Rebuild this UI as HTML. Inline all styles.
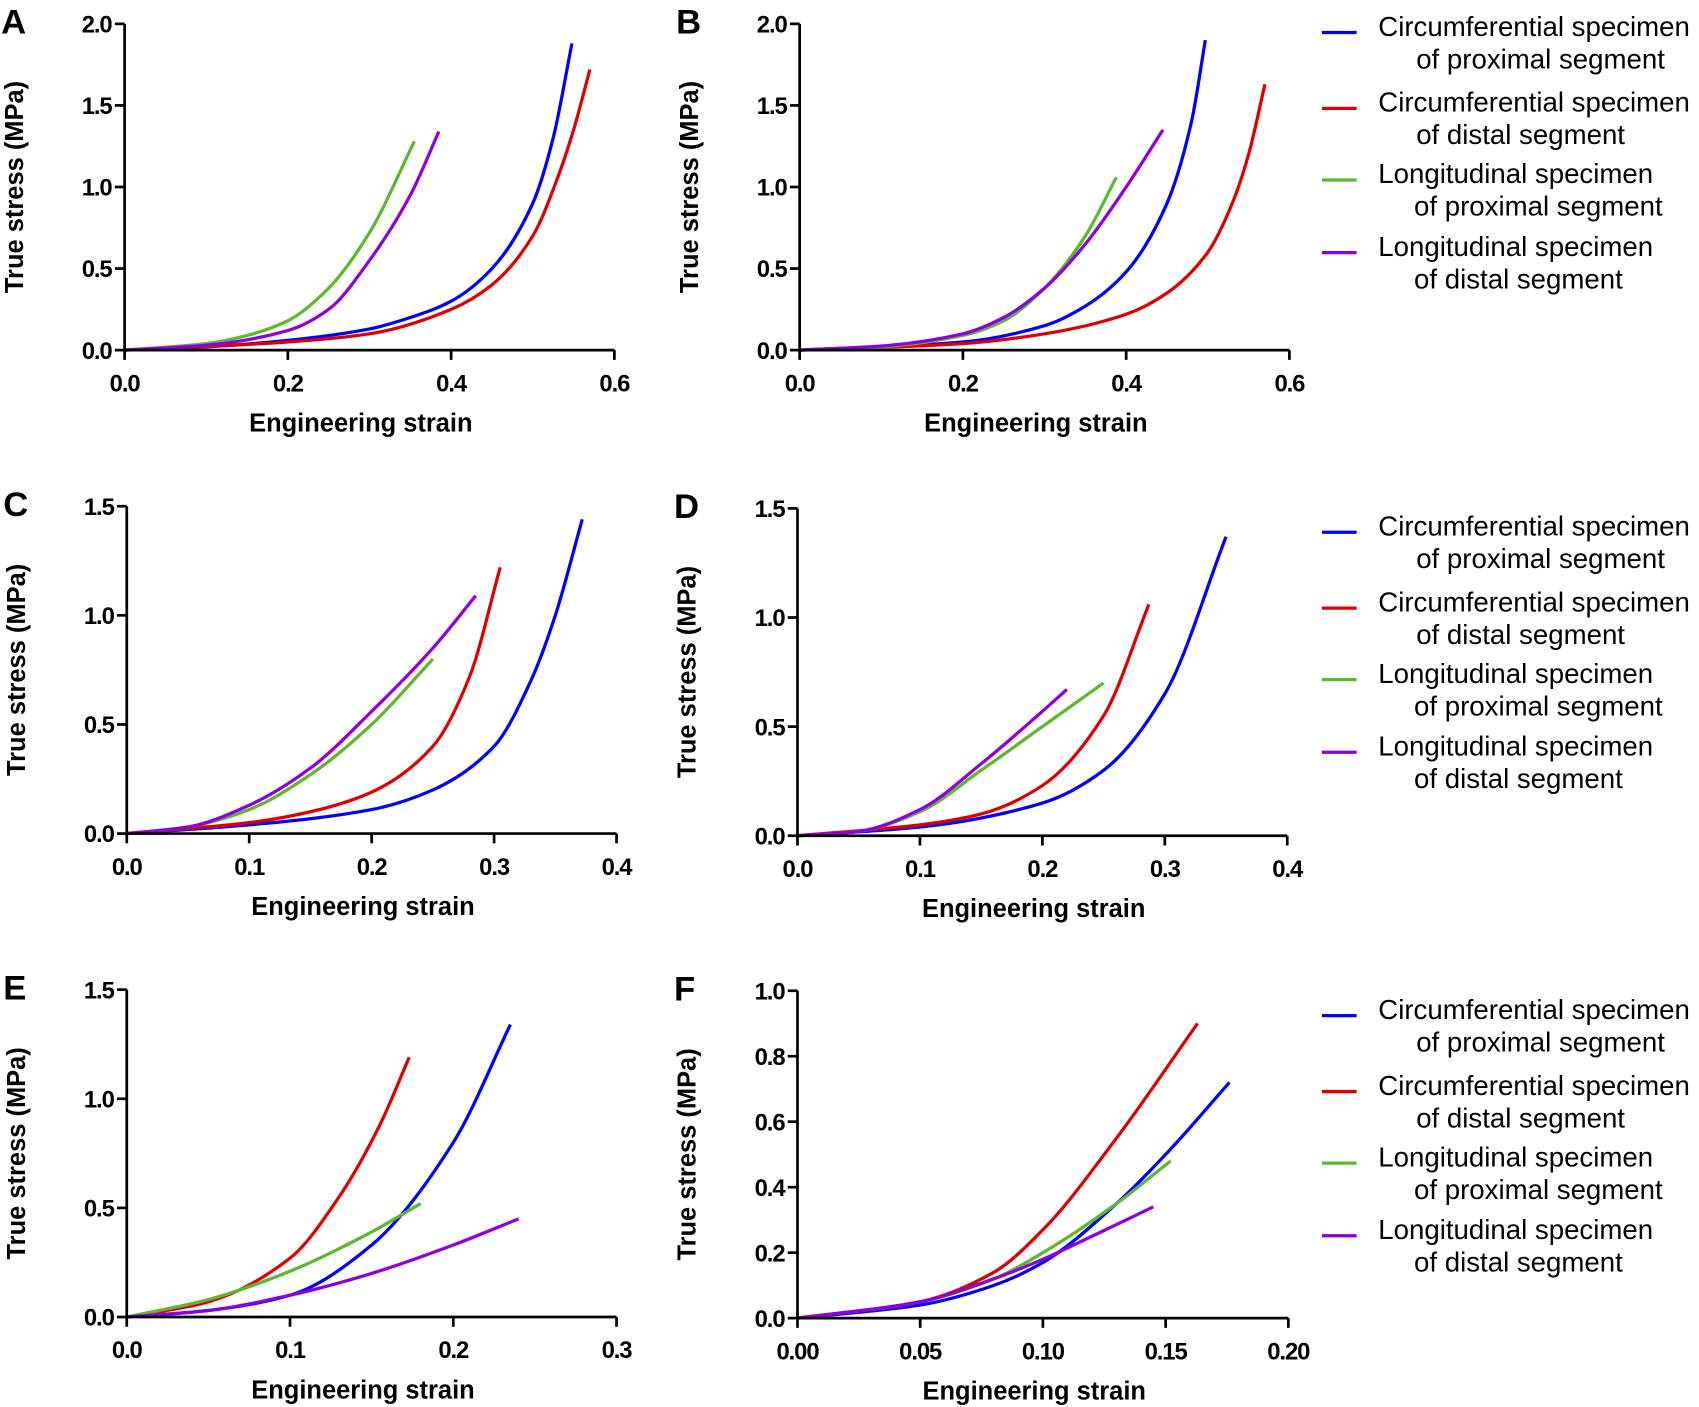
<!DOCTYPE html>
<html><head><meta charset="utf-8"><style>
html,body{margin:0;padding:0;background:#fff}
svg{display:block}
.tick{font-family:"Liberation Sans",sans-serif;font-weight:bold;font-size:22px;letter-spacing:-1px;fill:#000}
.title{font-family:"Liberation Sans",sans-serif;font-weight:bold;font-size:23.5px;fill:#000}
.letter{font-family:"Liberation Sans",sans-serif;font-weight:bold;font-size:32px;fill:#000}
.leg{font-family:"Liberation Sans",sans-serif;font-size:25.5px;fill:#000}
</style></head><body>
<svg id="fig" width="1699" height="1407" viewBox="0 0 1568 1298" preserveAspectRatio="none" xmlns="http://www.w3.org/2000/svg"></svg>
<script>
// Series data per panel: [strain, stress] pairs
const seriesNames = ["Circumferential specimen of proximal segment","Circumferential specimen of distal segment","Longitudinal specimen of proximal segment","Longitudinal specimen of distal segment"];
const seriesColors = ["#0000ff","#e00000","#5cb82e","#8f00e0"];
const aBlue=[[0,0],[0.1,0.02],[0.2,0.06],[0.3,0.13],[0.35,0.2],[0.4,0.3],[0.45,0.5],[0.5,0.9],[0.525,1.3],[0.548,1.88]];
const aRed=[[0,0],[0.2,0.05],[0.3,0.1],[0.4,0.25],[0.45,0.4],[0.5,0.7],[0.53,1.05],[0.55,1.35],[0.57,1.72]];
const aGreen=[[0,0],[0.1,0.04],[0.15,0.09],[0.2,0.18],[0.25,0.38],[0.3,0.72],[0.355,1.28]];
const aPurple=[[0,0],[0.1,0.03],[0.2,0.12],[0.25,0.25],[0.3,0.55],[0.35,0.95],[0.385,1.34]];
const bBlue=[[0,0],[0.2,0.05],[0.3,0.15],[0.35,0.27],[0.4,0.48],[0.45,0.9],[0.48,1.4],[0.497,1.9]];
const bRed=[[0,0],[0.2,0.04],[0.3,0.1],[0.4,0.22],[0.45,0.35],[0.5,0.6],[0.53,0.9],[0.55,1.2],[0.57,1.63]];
const bGreen=[[0,0],[0.1,0.02],[0.2,0.09],[0.25,0.18],[0.3,0.38],[0.35,0.7],[0.388,1.06]];
const bPurple=[[0,0],[0.1,0.025],[0.2,0.1],[0.25,0.2],[0.3,0.38],[0.35,0.65],[0.4,1.0],[0.445,1.35]];
const cBlue=[[0,0],[0.1,0.04],[0.2,0.11],[0.25,0.2],[0.3,0.4],[0.33,0.7],[0.35,1.0],[0.372,1.44]];
const cRed=[[0,0],[0.1,0.05],[0.15,0.1],[0.2,0.19],[0.25,0.4],[0.28,0.72],[0.305,1.22]];
const cGreen=[[0,0],[0.05,0.03],[0.1,0.11],[0.15,0.27],[0.2,0.5],[0.25,0.8]];
const cPurple=[[0,0],[0.05,0.03],[0.1,0.13],[0.15,0.3],[0.2,0.56],[0.25,0.85],[0.285,1.09]];
const dBlue=[[0,0],[0.1,0.04],[0.2,0.15],[0.25,0.3],[0.3,0.65],[0.35,1.37]];
const dRed=[[0,0],[0.1,0.05],[0.15,0.1],[0.2,0.23],[0.25,0.55],[0.287,1.06]];
const dGreen=[[0,0],[0.05,0.02],[0.1,0.11],[0.15,0.3],[0.2,0.5],[0.25,0.7]];
const dPurple=[[0,0],[0.05,0.02],[0.1,0.12],[0.15,0.33],[0.2,0.57],[0.22,0.67]];
const eBlue=[[0,0],[0.05,0.03],[0.1,0.1],[0.15,0.33],[0.2,0.8],[0.235,1.34]];
const eRed=[[0,0],[0.05,0.07],[0.1,0.27],[0.13,0.55],[0.155,0.88],[0.173,1.19]];
const eGreen=[[0,0],[0.05,0.08],[0.1,0.21],[0.15,0.39],[0.18,0.52]];
const ePurple=[[0,0],[0.05,0.03],[0.1,0.1],[0.15,0.2],[0.2,0.33],[0.24,0.45]];
const fBlue=[[0,0],[0.05,0.04],[0.08,0.1],[0.1,0.17],[0.13,0.35],[0.15,0.5],[0.176,0.72]];
const fRed=[[0,0],[0.05,0.05],[0.08,0.14],[0.1,0.27],[0.13,0.55],[0.163,0.9]];
const fGreen=[[0,0],[0.05,0.05],[0.08,0.12],[0.1,0.2],[0.13,0.35],[0.152,0.48]];
const fPurple=[[0,0],[0.05,0.05],[0.08,0.12],[0.1,0.18],[0.12,0.25],[0.145,0.34]];
const xTicksA=["0.0","0.2","0.4","0.6"];
const yTicksA=["0.0","0.5","1.0","1.5","2.0"];
const xTicksC=["0.0","0.1","0.2","0.3","0.4"];
const yTicksC=["0.0","0.5","1.0","1.5"];
const xTicksE=["0.0","0.1","0.2","0.3"];
const xTicksF=["0.00","0.05","0.10","0.15","0.20"];
const yTicksF=["0.0","0.2","0.4","0.6","0.8","1.0"];

const NS="http://www.w3.org/2000/svg";
const svg=document.getElementById('fig');
function mk(tag,attrs,parent){const e=document.createElementNS(NS,tag);for(const k in attrs)e.setAttribute(k,attrs[k]);(parent||svg).appendChild(e);return e;}

const panels=[
 {id:"a",L:"A",x0:115,x1:567,y0:323,y1:22,xt:xTicksA,yt:yTicksA,s:[aBlue,aRed,aGreen,aPurple]},
 {id:"b",L:"B",x0:738,x1:1190,y0:323,y1:22,xt:xTicksA,yt:yTicksA,s:[bBlue,bRed,bGreen,bPurple]},
 {id:"c",L:"C",x0:117,x1:569,y0:769,y1:467,xt:xTicksC,yt:yTicksC,s:[cBlue,cRed,cGreen,cPurple]},
 {id:"d",L:"D",x0:736,x1:1188,y0:771,y1:469,xt:xTicksC,yt:yTicksC,s:[dBlue,dRed,dGreen,dPurple]},
 {id:"e",L:"E",x0:117,x1:569,y0:1215,y1:913,xt:xTicksE,yt:yTicksC,s:[eBlue,eRed,eGreen,ePurple]},
 {id:"f",L:"F",x0:736,x1:1189,y0:1216,y1:914,xt:xTicksF,yt:yTicksF,s:[fBlue,fRed,fGreen,fPurple]}
];

// monotone cubic (Fritsch-Carlson) path in pixel space
function smooth(pts){
  const n=pts.length, dx=[], m=[], t=[];
  for(let i=0;i<n-1;i++){dx[i]=pts[i+1][0]-pts[i][0];m[i]=(pts[i+1][1]-pts[i][1])/dx[i];}
  t[0]=m[0]; t[n-1]=m[n-2];
  for(let i=1;i<n-1;i++){
    if(m[i-1]*m[i]<=0)t[i]=0;
    else{const w1=2*dx[i]+dx[i-1],w2=dx[i]+2*dx[i-1];t[i]=(w1+w2)/(w1/m[i-1]+w2/m[i]);}
  }
  let d="M"+pts[0][0]+","+pts[0][1];
  for(let i=0;i<n-1;i++){
    const h=dx[i]/3;
    d+=" C"+(pts[i][0]+h)+","+(pts[i][1]+t[i]*h)+" "+(pts[i+1][0]-h)+","+(pts[i+1][1]-t[i+1]*h)+" "+pts[i+1][0]+","+pts[i+1][1];
  }
  return d;
}

panels.forEach(p=>{
  const g=mk('g',{});
  
  
  const xmax=parseFloat(p.xt[p.xt.length-1]), ymax=parseFloat(p.yt[p.yt.length-1]);
  const X=v=>p.x0+(p.x1-p.x0)*v/xmax;
  const Y=v=>p.y0-(p.y0-p.y1)*v/ymax;
  const lt=mk('text',{x:p.x0-114,y:p.y1+9,class:'letter'},g);lt.textContent=p.L;
  
  
  p.s.forEach((ser,i)=>{
    const pts=ser.map(q=>[X(q[0]),Y(q[1])]);
    const path=mk('path',{d:smooth(pts),fill:'none',stroke:seriesColors[i],'stroke-width':3},g);
    
    
  });
  const ax=mk('path',{d:`M${p.x0},${p.y1} L${p.x0},${p.y0} L${p.x1},${p.y0}`,fill:'none',stroke:'#000','stroke-width':2.5},g);
  
  
  p.xt.forEach(t=>{
    const x=X(parseFloat(t));
    mk('line',{x1:x,x2:x,y1:p.y0,y2:p.y0+9,stroke:'#000','stroke-width':2.5},g);
    const tx=mk('text',{x:x,y:p.y0+38,class:'tick','text-anchor':'middle'},g);tx.textContent=t;
    
    
  });
  p.yt.forEach(t=>{
    const y=Y(parseFloat(t));
    mk('line',{x1:p.x0-9,x2:p.x0,y1:y,y2:y,stroke:'#000','stroke-width':2.5},g);
    const ty=mk('text',{x:p.x0-12,y:y+8,class:'tick','text-anchor':'end'},g);ty.textContent=t;
    
    
  });
  const xtl=mk('text',{x:(p.x0+p.x1)/2-8,y:p.y0+75,class:'title','text-anchor':'middle'},g);xtl.textContent="Engineering strain";
  
  
  const yc=(p.y0+p.y1)/2;
  const ytl=mk('text',{x:0,y:0,class:'title','text-anchor':'middle',transform:`translate(${p.x0-94},${yc}) rotate(-90)`},g);ytl.textContent="True stress (MPa)";
  
  
});

const legendTops=[24,485,931];
const rowOffsets=[0,70,136,203];
const line2=["of proximal segment","of distal segment","of proximal segment","of distal segment"];
const line1=["Circumferential specimen","Circumferential specimen","Longitudinal specimen","Longitudinal specimen"];
legendTops.forEach((top,li)=>{
  const g=mk('g',{});
  
  
  rowOffsets.forEach((off,i)=>{
    const y=top+off;
    const e=mk('g',{},g);
    
    
    mk('line',{x1:1220,x2:1252,y1:y+6,y2:y+6,stroke:seriesColors[i],'stroke-width':3},e);
    const t1=mk('text',{x:1272,y:y+9,class:'leg'},e);t1.textContent=line1[i];
    const t2=mk('text',{x:i<2?1307:1305,y:y+39,class:'leg'},e);t2.textContent=line2[i];
  });
});
</script>
</body></html>
